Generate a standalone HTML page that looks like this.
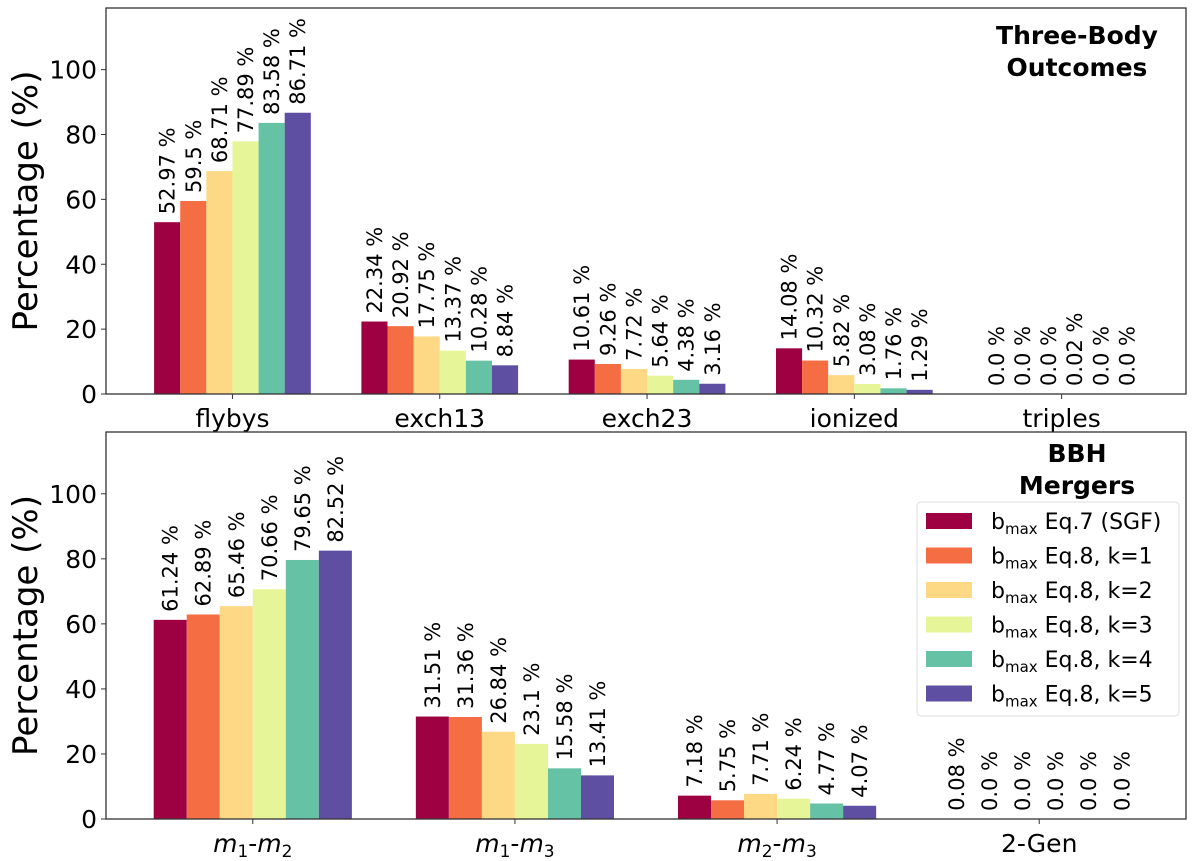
<!DOCTYPE html>
<html><head><meta charset="utf-8"><style>
body{margin:0;background:#fff}
svg{display:block;font-family:"DejaVu Sans","Liberation Sans",sans-serif}
</style></head><body>
<svg id="c" width="1200" height="861"></svg>
<script>
const topCats=["flybys","exch13","exch23","ionized","triples"];
const botCats=["m1-m2","m1-m3","m2-m3","2-Gen"];
const seriesNames=["Eq.7 (SGF)","Eq.8, k=1","Eq.8, k=2","Eq.8, k=3","Eq.8, k=4","Eq.8, k=5"];
const colors=["#9e0142","#f46d43","#fdd985","#e6f598","#66c2a5","#5e4fa2"];
const topVals=[[52.97,22.34,10.61,14.08,0.0],[59.5,20.92,9.26,10.32,0.0],[68.71,17.75,7.72,5.82,0.0],[77.89,13.37,5.64,3.08,0.02],[83.58,10.28,4.38,1.76,0.0],[86.71,8.84,3.16,1.29,0.0]];
const botVals=[[61.24,31.51,7.18,0.08],[62.89,31.36,5.75,0.0],[65.46,26.84,7.71,0.0],[70.66,23.1,6.24,0.0],[79.65,15.58,4.77,0.0],[82.52,13.41,4.07,0.0]];
const yTicks=[0,20,40,60,80,100];
const NS="http://www.w3.org/2000/svg";
const svg=document.getElementById('c');
function mk(t,a,p){const e=document.createElementNS(NS,t);for(const k in a)e.setAttribute(k,a[k]);(p||svg).appendChild(e);return e;}
const fmt=v=>Number.isInteger(v)?v.toFixed(1):String(v);
function panel(cats,vals,top,bot,xmin,xmax,pname,catLabels){
  const L=106,R=1186;
  const g=mk('g',{});
  
  
  const xs=v=>L+(v-xmin)/(xmax-xmin)*(R-L);
  const ys=v=>bot-v/119*(bot-top);
  const bw=0.126;
  vals.forEach((ser,s)=>{
    ser.forEach((v,i)=>{
      const cx=i+(s-2.5)*bw;
      const x0=xs(cx-bw/2),x1=xs(cx+bw/2);
      const r=mk('rect',{x:x0,y:ys(v),width:x1-x0,height:ys(0)-ys(v),fill:colors[s]},g);
      
      
      const tx=xs(cx)+7.5,ty=ys(v)-8;
      const t=mk('text',{x:tx,y:ty,'font-size':21,transform:`rotate(-90 ${tx} ${ty})`},g);
      t.textContent=fmt(v)+" %";
      
      
    });
  });
  mk('rect',{x:L,y:top,width:R-L,height:bot-top,fill:'none',stroke:'#333','stroke-width':1.3},g);
  yTicks.forEach(v=>{
    mk('line',{x1:L-5,x2:L,y1:ys(v),y2:ys(v),stroke:'#333'},g);
    const t=mk('text',{x:L-9,y:ys(v)+9,'font-size':25,'text-anchor':'end'},g);
    t.textContent=v;
    
    
  });
  cats.forEach((c,i)=>{
    mk('line',{x1:xs(i),x2:xs(i),y1:bot,y2:bot+5,stroke:'#333'},g);
    const t=mk('text',{x:xs(i),y:bot+33,'font-size':25,'text-anchor':'middle'},g);
    t.innerHTML=catLabels?catLabels[i]:c;
    
    
  });
  const yl=mk('text',{x:37,y:(top+bot)/2,'font-size':34,'text-anchor':'middle',transform:`rotate(-90 37 ${(top+bot)/2})`},g);
  yl.textContent="Percentage (%)";
  
  
}
panel(topCats,topVals,8,394,-0.61,4.6,'three-body-panel');
const m=(a,b)=>`<tspan font-style="italic">m</tspan><tspan font-size="17" dy="5">${a}</tspan><tspan dy="-5">-</tspan><tspan font-style="italic">m</tspan><tspan font-size="17" dy="5">${b}</tspan>`;
panel(botCats,botVals,432,819,-0.56,3.56,'bbh-panel',[m(1,2),m(1,3),m(2,3),"2-Gen"]);
function title(lines,y0,name){
  const t=mk('text',{x:1077,y:y0,'font-size':25,'font-weight':'bold','text-anchor':'middle'});
  lines.forEach((l,i)=>{const s=mk('tspan',{x:1077,dy:i?32:0},t);s.textContent=l;});
  
  
}
title(["Three-Body","Outcomes"],44,'top-panel-title');
title(["BBH","Mergers"],462,'bottom-panel-title');
const lg=mk('g',{});


mk('rect',{x:917,y:502,width:262,height:214,rx:4,fill:'#fff','fill-opacity':0.85,stroke:'#ddd'},lg);
seriesNames.forEach((n,s)=>{
  const cy=521+s*34.5;
  const e=mk('g',{},lg);
  
  
  mk('rect',{x:926,y:cy-8,width:46,height:16,fill:colors[s]},e);
  const t=mk('text',{x:991,y:cy+8,'font-size':22},e);
  t.innerHTML=`b<tspan font-size="15" dy="5">max</tspan><tspan dy="-5"> ${n}</tspan>`;
});
</script>
</body></html>
